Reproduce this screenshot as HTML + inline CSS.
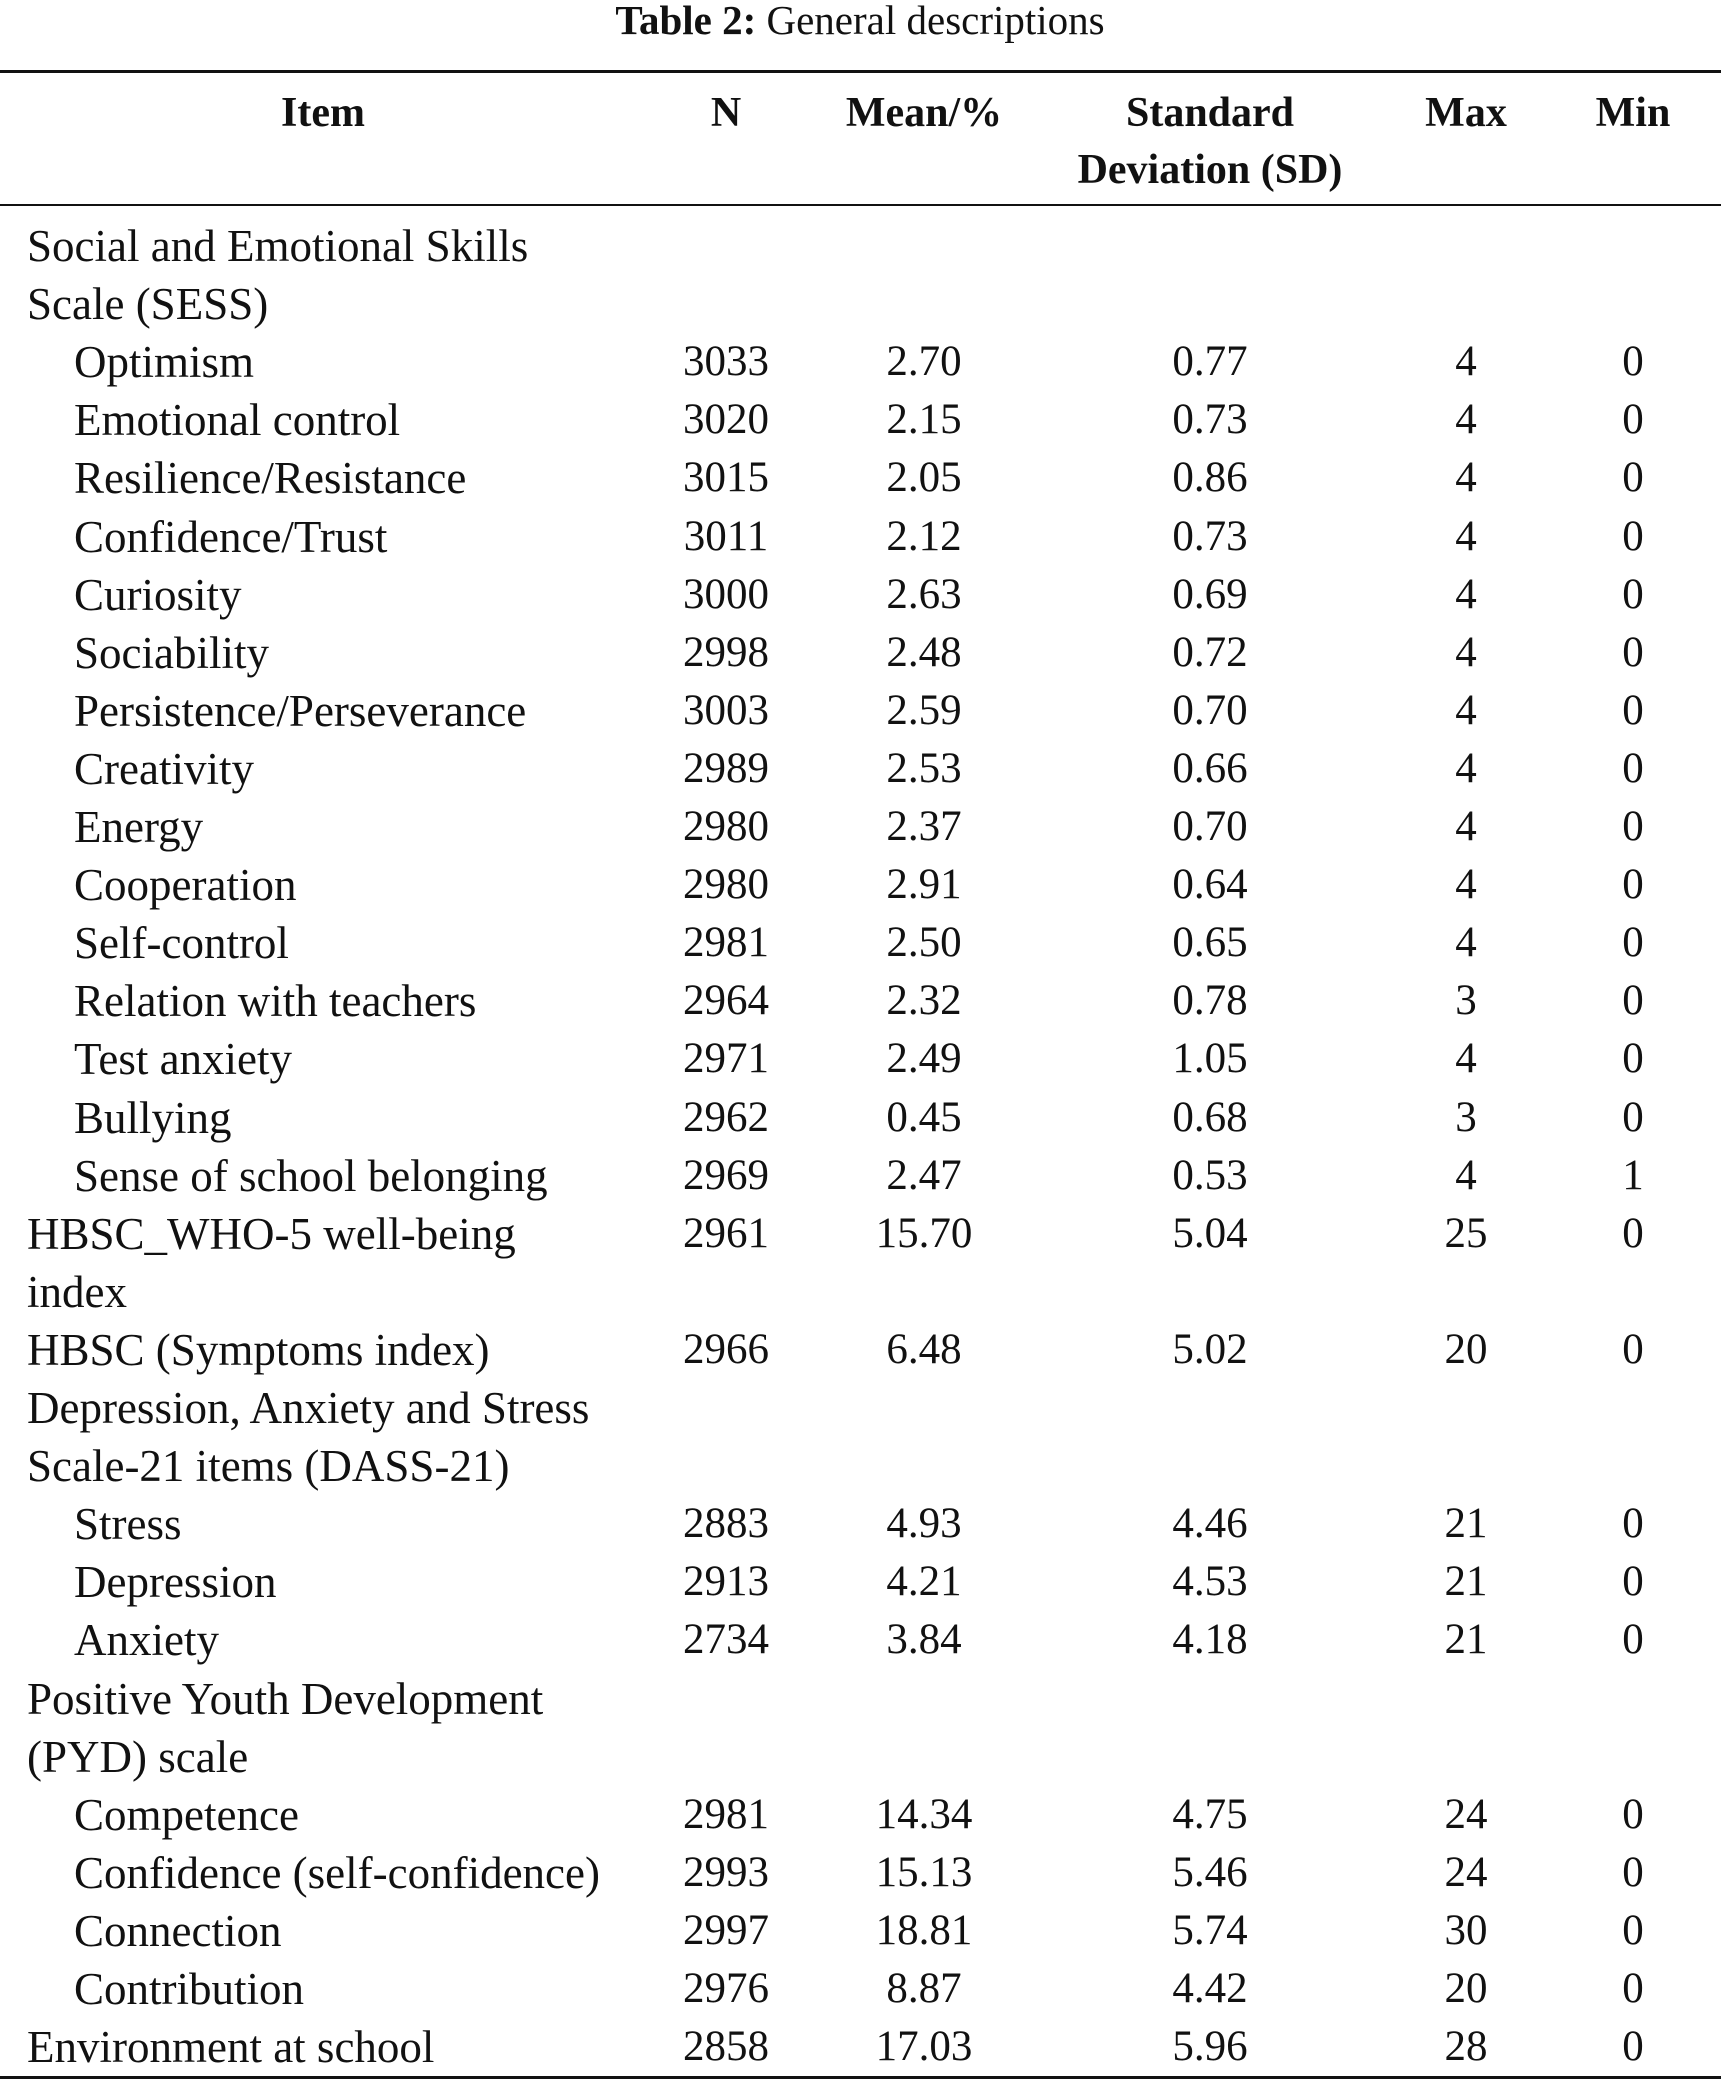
<!DOCTYPE html>
<html><head><meta charset="utf-8"><style>
html,body{margin:0;padding:0;background:#fff;}
#page{position:relative;width:1721px;height:2082px;overflow:hidden;font-family:"Liberation Serif",serif;color:#111;}
.t{position:absolute;white-space:nowrap;line-height:58px;height:58px;}
.c{transform:translateX(-50%);}
.rule{position:absolute;left:0;width:1721px;background:#111;}
.h{font-weight:bold;font-size:42px;}
.d{font-size:43px;}
.l{font-size:45px;}
</style></head><body>
<div id="page">
<div class="t c" style="left:860px;top:-9px;font-size:41px;"><b>Table 2:</b> General descriptions</div>
<div class="rule" style="top:70px;height:3px;"></div>
<div class="t c h" style="left:323px;top:84px;">Item</div>
<div class="t c h" style="left:726px;top:84px;">N</div>
<div class="t c h" style="left:924px;top:84px;">Mean/%</div>
<div class="t c h" style="left:1210px;top:84px;">Standard</div>
<div class="t c h" style="left:1210px;top:141px;">Deviation (SD)</div>
<div class="t c h" style="left:1466px;top:84px;">Max</div>
<div class="t c h" style="left:1633px;top:84px;">Min</div>
<div class="rule" style="top:204px;height:2px;"></div>
<div class="rule" style="top:2076px;height:3px;"></div>
</div>
<script>
const labels=["Social and Emotional Skills","Scale (SESS)","Optimism","Emotional control","Resilience/Resistance","Confidence/Trust","Curiosity","Sociability","Persistence/Perseverance","Creativity","Energy","Cooperation","Self-control","Relation with teachers","Test anxiety","Bullying","Sense of school belonging","HBSC_WHO-5 well-being","index","HBSC (Symptoms index)","Depression, Anxiety and Stress","Scale-21 items (DASS-21)","Stress","Depression","Anxiety","Positive Youth Development","(PYD) scale","Competence","Confidence (self-confidence)","Connection","Contribution","Environment at school"];
const indents=[0,0,1,1,1,1,1,1,1,1,1,1,1,1,1,1,1,0,0,0,0,0,1,1,1,0,0,1,1,1,1,0];
const nVals=["","","3033","3020","3015","3011","3000","2998","3003","2989","2980","2980","2981","2964","2971","2962","2969","2961","","2966","","","2883","2913","2734","","","2981","2993","2997","2976","2858"];
const meanVals=["","","2.70","2.15","2.05","2.12","2.63","2.48","2.59","2.53","2.37","2.91","2.50","2.32","2.49","0.45","2.47","15.70","","6.48","","","4.93","4.21","3.84","","","14.34","15.13","18.81","8.87","17.03"];
const sdVals=["","","0.77","0.73","0.86","0.73","0.69","0.72","0.70","0.66","0.70","0.64","0.65","0.78","1.05","0.68","0.53","5.04","","5.02","","","4.46","4.53","4.18","","","4.75","5.46","5.74","4.42","5.96"];
const maxVals=["","","4","4","4","4","4","4","4","4","4","4","4","3","4","3","4","25","","20","","","21","21","21","","","24","24","30","20","28"];
const minVals=["","","0","0","0","0","0","0","0","0","0","0","0","0","0","0","1","0","","0","","","0","0","0","","","0","0","0","0","0"];
const page=document.getElementById('page');
const cols=[[nVals,726,'n'],[meanVals,924,'mean'],[sdVals,1210,'sd'],[maxVals,1466,'max'],[minVals,1633,'min']];
labels.forEach((lab,i)=>{
  const top=247+i*58.1-30;
  const el=document.createElement('div');
  el.className='t l';
  el.style.left=(indents[i]?74:27)+'px';
  el.style.top=top+'px';
  el.textContent=lab;
  
  
  page.appendChild(el);
  cols.forEach(([arr,x,nm])=>{
    if(!arr[i])return;
    const c=document.createElement('div');
    c.className='t c d';
    c.style.left=x+'px';
    c.style.top=top+'px';
    c.textContent=arr[i];
    
    
    page.appendChild(c);
  });
});
</script>
</body></html>
